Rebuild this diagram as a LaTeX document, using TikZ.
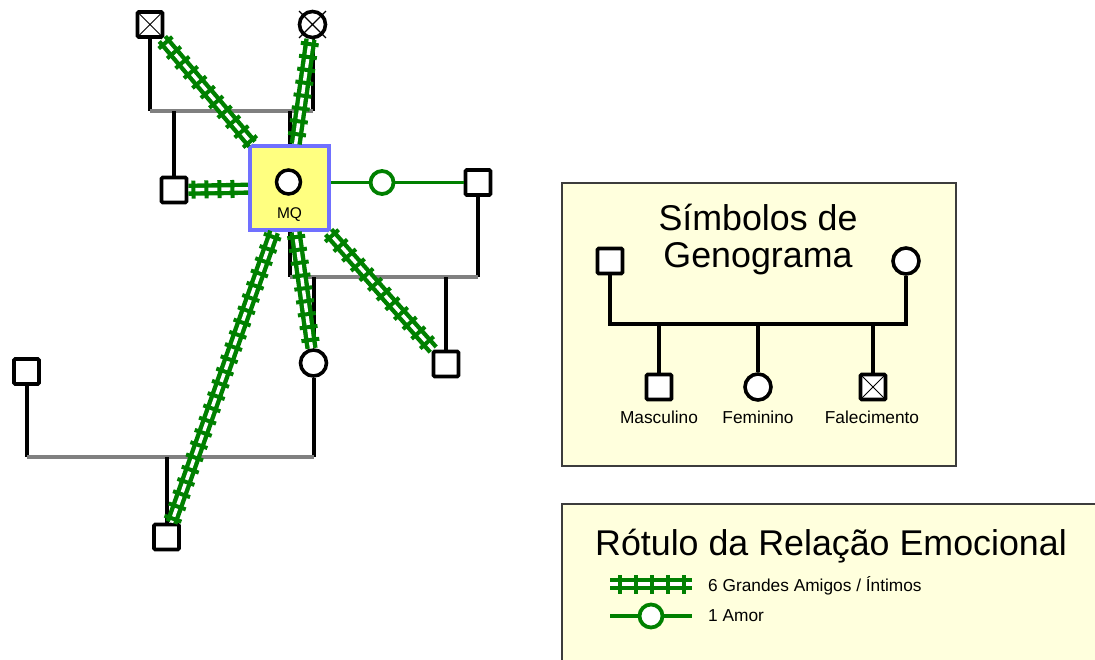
\documentclass[tikz,border=0pt]{standalone}
\usepackage{fontspec}
\setmainfont{Liberation Sans}
\usetikzlibrary{calc,decorations.markings}

\definecolor{relgreen}{RGB}{0,128,0}
\definecolor{boxblue}{RGB}{112,112,255}
\definecolor{mqfill}{RGB}{255,255,128}
\definecolor{legfill}{RGB}{255,255,221}
\definecolor{bondgray}{RGB}{128,128,128}
\definecolor{legframe}{RGB}{60,60,60}

\begin{document}
\begin{tikzpicture}[x=1pt,y=-1pt,
  male/.style={rectangle, draw=black, line width=3.8pt, fill=white,
    minimum size=25pt, inner sep=0pt, rounded corners=1.2pt},
  female/.style={circle, draw=black, line width=3.6pt, fill=white,
    minimum size=26pt, inner sep=0pt},
  deadmale/.style={male, path picture={
    \draw[black, line width=1pt]
      (path picture bounding box.north west) -- (path picture bounding box.south east)
      (path picture bounding box.north east) -- (path picture bounding box.south west);}},
  xmark/.style={draw=black, line width=1.1pt},
  mqbox/.style={rectangle, draw=boxblue, line width=4pt, fill=mqfill,
    minimum width=79pt, minimum height=84pt, inner sep=0pt},
  kin/.style={draw=black, line width=4pt},
  bond/.style={draw=bondgray, line width=4.5pt},
  rails/.style={draw=relgreen, line width=4.4pt, double=white, double distance=3.4pt},
  friend/.style={rails,
    postaction={decorate, decoration={markings,
      mark=between positions 5pt and -3pt step 13pt with
        {\draw[relgreen, line width=4pt] (0,-9pt) -- (0,9pt);}}}},
  friendkey/.style={rails,
    postaction={decorate, decoration={markings,
      mark=between positions 10pt and -3pt step 16pt with
        {\draw[relgreen, line width=4pt] (0,-9.5pt) -- (0,9.5pt);}}}},
  love/.style={draw=relgreen, line width=3.8pt},
  lovecirc/.style={circle, draw=relgreen, line width=3.8pt, fill=white,
    minimum size=23pt, inner sep=0pt},
  legbox/.style={draw=legframe, line width=1.5pt, fill=legfill},
  bigtitle/.style={font=\fontsize{35.8}{42}\selectfont, inner sep=0pt},
  smalltext/.style={font=\fontsize{17.3}{20}\selectfont, inner sep=0pt},
]
\useasboundingbox (0,0) rectangle (1095,659);

% ---------------- legend panels ----------------
\path[legbox] (562,183) rectangle (956,466);
\path[legbox] (562,504) rectangle (1102,668);

% ---------------- family members ----------------
\node[deadmale] (gf) at (150,24.5) {};
\node[female] (gm) at (312.5,24.5) {};
\draw[xmark] ($(gm.center)+(45:19)$) -- ($(gm.center)+(225:19)$)
             ($(gm.center)+(135:19)$) -- ($(gm.center)+(315:19)$);
\node[male] (sib) at (174,190) {};
\node[mqbox] (mq) at (289.5,188) {};
\node[female, minimum size=24pt, line width=3.5pt] (mqc) at (288.5,182) {};
\node[font=\fontsize{15.5}{18}\selectfont, inner sep=0pt, anchor=base] (mqt) at (289.5,218) {MQ};
\node[male] (ptn) at (478,182.5) {};
\node[female] (dau) at (313.5,363) {};
\node[male] (son) at (446,364) {};
\node[male] (lft) at (26.5,371.5) {};
\node[male] (gs) at (166.5,537) {};

% junction points on the couple lines
\coordinate (u1l) at (150,111);
\coordinate (u1r) at (312.5,111);
\coordinate (c1a) at (174,111);
\coordinate (c1b) at (289.5,111);
\coordinate (u2l) at (289.5,277);
\coordinate (u2r) at (478,277);
\coordinate (c2a) at (313.5,277);
\coordinate (c2b) at (446,277);
\coordinate (u3l) at (26.5,457);
\coordinate (u3r) at (313.5,457);
\coordinate (c3) at (166.5,457);

% ---------------- kinship lines ----------------
\draw[kin] (gf) -- (u1l);
\draw[kin] (gm) -- (u1r);
\draw[bond] (u1l) -- (u1r);
\draw[kin] (c1a) -- (sib);
\draw[kin] (c1b) -- (mq);

\draw[kin] (mq) -- (u2l);
\draw[kin] (ptn) -- (u2r);
\draw[bond] (u2l) -- (u2r);
\draw[kin] (c2a) -- (dau);
\draw[kin] (c2b) -- (son);

\draw[kin] (lft) -- (u3l);
\draw[kin] (dau) -- (u3r);
\draw[bond] (u3l) -- (u3r);
\draw[kin] (c3) -- (gs);

% ---------------- emotional relations ----------------
\draw[friend] (gf) -- (mq);
\draw[friend] (gm) -- (mq);
\draw[friend] (sib) -- (mq);
\draw[friend] (mq) -- (son);
\draw[friend] (mq) -- (dau);
\draw[friend] (mq) -- (gs);
\draw[love] (mq.east |- ptn.west) -- node[lovecirc, pos=0.385] (lv) {} (ptn.west);

% ---------------- genogram symbols panel ----------------
\node[bigtitle, anchor=base] (t1a) at (758,230) {Símbolos de};
\node[bigtitle, anchor=base] (t1b) at (758,267) {Genograma};
\node[male] (lf) at (610,261) {};
\node[female] (lm) at (906,261) {};
\node[male] (k1) at (659,387) {};
\node[female] (k2) at (758,387) {};
\node[deadmale] (k3) at (873,387) {};
\coordinate (lj1) at (610,324);
\coordinate (lj2) at (906,324);
\coordinate (lk1) at (659,324);
\coordinate (lk2) at (758,324);
\coordinate (lk3) at (873,324);
\draw[kin] (lf) -- (lj1) -- (lj2) -- (lm);
\draw[kin] (lk1) -- (k1);
\draw[kin] (lk2) -- (k2);
\draw[kin] (lk3) -- (k3);
\node[smalltext, anchor=base] (n1) at (659,423) {Masculino};
\node[smalltext, anchor=base] (n2) at (758,423) {Feminino};
\node[smalltext, anchor=base] (n3) at (872,423) {Falecimento};

% ---------------- relation legend panel ----------------
\node[bigtitle, anchor=base] (t2) at (831,555) {Rótulo da Relação Emocional};
\coordinate (fa) at (610,584);
\coordinate (fb) at (692,584);
\draw[friendkey] (fa) -- (fb);
\node[smalltext, anchor=base west] (fl) at (708,591) {6 Grandes Amigos / Íntimos};
\coordinate (la) at (610,616);
\coordinate (lb) at (692,616);
\draw[love] (la) -- node[lovecirc, pos=0.5] (lc) {} (lb);
\node[smalltext, anchor=base west] (ll) at (708,621) {1 Amor};
\end{tikzpicture}
\end{document}
